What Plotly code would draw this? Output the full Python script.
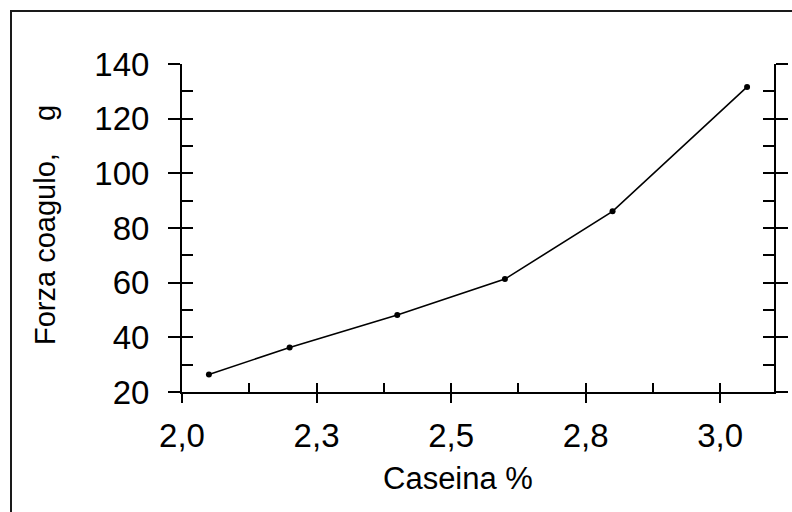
import plotly.graph_objects as go

# Casein content (%) and curd firmness (g)
caseina = [2.05, 2.20, 2.40, 2.60, 2.80, 3.05]
forza = [26.4, 36.3, 48.2, 61.3, 86.1, 131.6]

x_tickvals = [2.0, 2.25, 2.5, 2.75, 3.0]
x_ticktext = ["2,0", "2,3", "2,5", "2,8", "3,0"]
y_tickvals = [20, 40, 60, 80, 100, 120, 140]

FONT = "Liberation Sans, Arial, Helvetica, sans-serif"
BLACK = "#000000"

W, H = 792, 512
ML, MR, MT, MB = 182, 18, 64, 120
PW, PH = W - ML - MR, H - MT - MB


def px_x(p):
    return (p - ML) / PW


def px_y(p):
    return (H - MB - p) / PH


fig = go.Figure()
fig.add_trace(go.Scatter(
    x=caseina, y=forza, mode="lines+markers",
    line=dict(color=BLACK, width=1.6),
    marker=dict(color=BLACK, size=6),
    showlegend=False, hoverinfo="skip",
))
# invisible traces carrying the overlay axes (inside halves of the major ticks)
for xa, ya in (("x2", "y"), ("x", "y2"), ("x", "y3")):
    fig.add_trace(go.Scatter(x=[caseina[0]], y=[forza[0]], xaxis=xa, yaxis=ya,
                             mode="markers", marker=dict(opacity=0),
                             showlegend=False, hoverinfo="skip"))

common_x = dict(range=[2.0, 3.1], showgrid=False, zeroline=False, automargin=False)
common_y = dict(range=[20, 140], showgrid=False, zeroline=False, automargin=False)
tick_font = dict(size=33, family=FONT, color=BLACK)

fig.update_layout(
    width=W, height=H,
    margin=dict(l=ML, r=MR, t=MT, b=MB, autoexpand=False),
    paper_bgcolor="white", plot_bgcolor="white",
    font=dict(family=FONT, color=BLACK),
    xaxis=dict(
        **common_x, showline=True, linecolor=BLACK, linewidth=2,
        ticks="outside", ticklen=9, tickwidth=2, tickcolor=BLACK,
        tickvals=x_tickvals, ticktext=x_ticktext,
        tickfont=tick_font, ticklabelstandoff=4,
        minor=dict(ticks="inside", ticklen=9, tickwidth=2, tickcolor=BLACK,
                   tick0=2.125, dtick=0.25),
        anchor="y",
    ),
    xaxis2=dict(
        **common_x, overlaying="x", side="bottom", anchor="y",
        showline=False, ticks="inside", ticklen=9, tickwidth=2, tickcolor=BLACK,
        tickvals=x_tickvals, showticklabels=False,
    ),
    yaxis=dict(
        **common_y, showline=True, linecolor=BLACK, linewidth=2, mirror="ticks",
        ticks="outside", ticklen=12, tickwidth=2, tickcolor=BLACK,
        tickvals=y_tickvals, tickfont=tick_font, ticklabelstandoff=12,
        minor=dict(ticks="inside", ticklen=11, tickwidth=2, tickcolor=BLACK,
                   tick0=30, dtick=20),
        anchor="x",
    ),
    yaxis2=dict(
        **common_y, overlaying="y", side="left", anchor="x",
        showline=False, ticks="inside", ticklen=11, tickwidth=2,
        tickcolor=BLACK, tickvals=y_tickvals, showticklabels=False,
    ),
    yaxis3=dict(
        **common_y, overlaying="y", side="right", anchor="x",
        showline=False, ticks="inside", ticklen=11, tickwidth=2,
        tickcolor=BLACK, tickvals=y_tickvals, showticklabels=False,
    ),
    shapes=[
        # outer frame
        dict(type="rect", xref="paper", yref="paper",
             x0=px_x(11), x1=px_x(830), y0=px_y(560), y1=px_y(11),
             line=dict(color="#1a1a1a", width=2), layer="below"),
    ],
    annotations=[
        dict(text="Caseina %", xref="paper", yref="paper",
             x=px_x(458), y=px_y(478),
             xanchor="center", yanchor="middle", showarrow=False,
             font=dict(size=31, family=FONT, color=BLACK)),
        dict(text="Forza coagulo,\u00a0\u00a0\u00a0\u00a0g", xref="paper", yref="paper",
             x=px_x(45), y=px_y(225), textangle=-90,
             xanchor="center", yanchor="middle", showarrow=False,
             font=dict(size=29, family=FONT, color=BLACK)),
    ],
)

fig.write_html("out.html")
